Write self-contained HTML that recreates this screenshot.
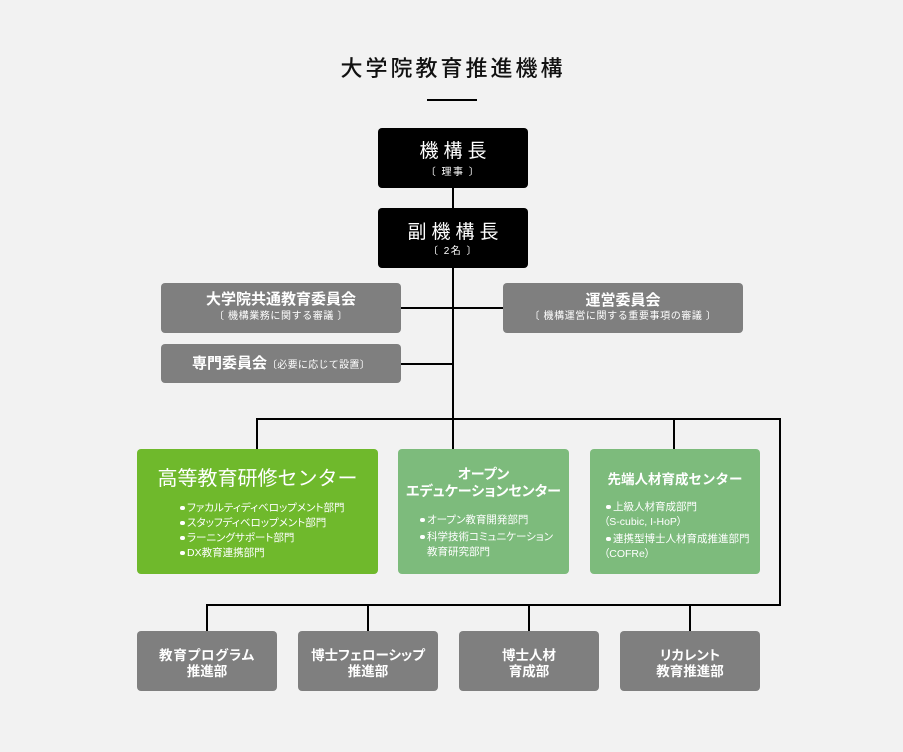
<!DOCTYPE html>
<html><head><meta charset="utf-8">
<style>
*{margin:0;padding:0;box-sizing:border-box}
html,body{width:903px;height:752px;background:#f2f2f2;overflow:hidden}
body{position:relative;font-family:"Liberation Sans","Noto Sans CJK JP",sans-serif;color:#fff}
.ln{position:absolute;background:#000}
.box{position:absolute;border-radius:4px}
.blk{background:#000}
.gry{background:#7f7f7f}
.g1{background:#6fb92c}
.g2{background:#7dbb7c}
.t{position:absolute;white-space:nowrap;text-align:center}
.p{font-feature-settings:"palt"}
.b{position:absolute;white-space:nowrap;font-size:10.5px;line-height:15px;font-feature-settings:"palt"}
.b.d::before{content:"";position:absolute;left:-7px;top:5.25px;width:4.5px;height:4.5px;border-radius:50%;background:#fff}
.sub{font-size:10px;line-height:12px;letter-spacing:0.6px}
.gt{font-size:15px;line-height:18px;font-weight:bold}
.bt{font-size:13.5px;line-height:16px;font-weight:bold;font-feature-settings:"palt"}
</style></head><body>

<!-- title -->
<div class="t" style="left:0;width:903px;top:54px;line-height:30px;font-size:22px;letter-spacing:3px;padding-left:3px;color:#111;font-weight:500">大学院教育推進機構</div>
<div class="ln" style="left:427px;top:99px;width:50px;height:2px"></div>

<!-- connectors -->
<div class="ln" style="left:452px;top:188px;width:2px;height:261px"></div>
<div class="ln" style="left:401px;top:307px;width:102px;height:2px"></div>
<div class="ln" style="left:401px;top:363px;width:52px;height:2px"></div>
<div class="ln" style="left:256px;top:418px;width:525px;height:2px"></div>
<div class="ln" style="left:256px;top:418px;width:2px;height:31px"></div>
<div class="ln" style="left:673px;top:418px;width:2px;height:31px"></div>
<div class="ln" style="left:779px;top:418px;width:2px;height:188px"></div>
<div class="ln" style="left:206px;top:604px;width:575px;height:2px"></div>
<div class="ln" style="left:206px;top:604px;width:2px;height:27px"></div>
<div class="ln" style="left:367px;top:604px;width:2px;height:27px"></div>
<div class="ln" style="left:528px;top:604px;width:2px;height:27px"></div>
<div class="ln" style="left:689px;top:604px;width:2px;height:27px"></div>

<!-- black boxes -->
<div class="box blk" style="left:378px;top:128px;width:150px;height:60px"></div>
<div class="t" style="left:378px;width:150px;top:141px;font-size:19px;line-height:22px;letter-spacing:5px;padding-left:5px">機構長</div>
<div class="t sub" style="left:378px;width:150px;top:167px;letter-spacing:1.5px">〔 理事 〕</div>

<div class="box blk" style="left:378px;top:208px;width:150px;height:60px"></div>
<div class="t" style="left:378px;width:150px;top:222px;font-size:19px;line-height:22px;letter-spacing:5px;padding-left:5px">副機構長</div>
<div class="t sub" style="left:378px;width:150px;top:246px;letter-spacing:1.5px">〔 2名 〕</div>

<!-- grey committee boxes -->
<div class="box gry" style="left:161px;top:283px;width:240px;height:50px"></div>
<div class="t gt" style="left:161px;width:240px;top:291px">大学院共通教育委員会</div>
<div class="t sub" style="left:161px;width:240px;top:311px">〔 機構業務に関する審議 〕</div>

<div class="box gry" style="left:503px;top:283px;width:240px;height:50px"></div>
<div class="t gt" style="left:503px;width:240px;top:292px">運営委員会</div>
<div class="t sub" style="left:503px;width:240px;top:311px">〔 機構運営に関する重要事項の審議 〕</div>

<div class="box gry" style="left:161px;top:344px;width:240px;height:39px"></div>
<div class="t" style="left:161px;width:240px;top:355px;line-height:18px"><span class="gt">専門委員会</span><span style="font-size:10px;letter-spacing:0.3px">〔必要に応じて設置〕</span></div>

<!-- green boxes -->
<div class="box g1" style="left:137px;top:449px;width:241px;height:125px"></div>
<div class="t" style="left:137px;width:241px;top:467px;font-size:20px;line-height:24px">高等教育研修センター</div>
<div class="b d" style="left:187px;top:500.5px">ファカルティディベロップメント部門</div>
<div class="b d" style="left:187px;top:515.5px">スタッフディベロップメント部門</div>
<div class="b d" style="left:187px;top:530.5px">ラーニングサポート部門</div>
<div class="b d" style="left:187px;top:545.5px">DX教育連携部門</div>

<div class="box g2" style="left:398px;top:449px;width:171px;height:125px"></div>
<div class="t p" style="left:398px;width:171px;top:465.5px;font-size:14px;line-height:17px;font-weight:bold">オープン</div>
<div class="t p" style="left:398px;width:171px;top:482.5px;font-size:14px;line-height:17px;font-weight:bold">エデュケーションセンター</div>
<div class="b d" style="left:427px;top:512.5px">オープン教育開発部門</div>
<div class="b d" style="left:427px;top:529.5px">科学技術コミュニケーション</div>
<div class="b" style="left:427px;top:544.5px">教育研究部門</div>

<div class="box g2" style="left:590px;top:449px;width:170px;height:125px"></div>
<div class="t" style="left:590px;width:170px;top:470.5px;font-size:13.5px;line-height:17px;font-weight:bold">先端人材育成センター</div>
<div class="b d" style="left:613px;top:499.5px">上級人材育成部門</div>
<div class="b" style="left:604px;top:514.5px">（S-cubic, I-HoP）</div>
<div class="b d" style="left:613px;top:531.5px">連携型博士人材育成推進部門</div>
<div class="b" style="left:604px;top:546.5px">（COFRe）</div>

<!-- bottom boxes -->
<div class="box gry" style="left:137px;top:631px;width:140px;height:60px"></div>
<div class="t bt" style="left:137px;width:140px;top:648px;letter-spacing:0.8px">教育プログラム</div>
<div class="t bt" style="left:137px;width:140px;top:664px">推進部</div>

<div class="box gry" style="left:298px;top:631px;width:140px;height:60px"></div>
<div class="t bt" style="left:298px;width:140px;top:648px">博士フェローシップ</div>
<div class="t bt" style="left:298px;width:140px;top:664px">推進部</div>

<div class="box gry" style="left:459px;top:631px;width:140px;height:60px"></div>
<div class="t bt" style="left:459px;width:140px;top:648px">博士人材</div>
<div class="t bt" style="left:459px;width:140px;top:664px">育成部</div>

<div class="box gry" style="left:620px;top:631px;width:140px;height:60px"></div>
<div class="t bt" style="left:620px;width:140px;top:648px">リカレント</div>
<div class="t bt" style="left:620px;width:140px;top:664px">教育推進部</div>

</body></html>
